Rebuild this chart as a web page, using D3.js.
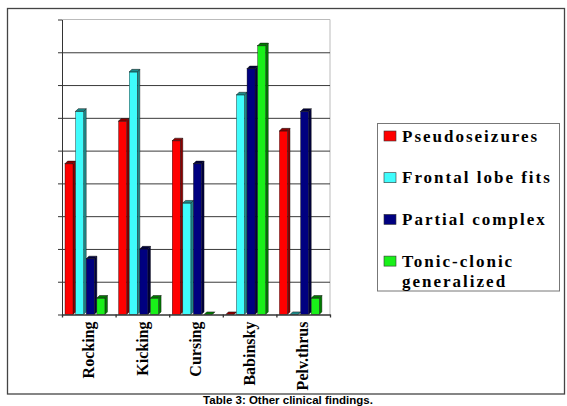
<!DOCTYPE html>
<html lang="en">
<head>
<meta charset="utf-8">
<title>Other clinical findings</title>
<script src="https://d3js.org/d3.v7.min.js"></script>
<style>
  body { margin: 0; background: #fff; }
  .cat { font-family: "Liberation Serif", "Times New Roman", serif; font-weight: bold; font-size: 16px; }
  .leg { font-family: "Liberation Serif", "Times New Roman", serif; font-weight: bold; font-size: 17px; letter-spacing: 2px; }
  .caption { font-family: "Liberation Sans", Arial, sans-serif; font-weight: bold; font-size: 11.5px; }
</style>
</head>
<body>
<div id="vis"></div>
<script>
// data
const categories = ["Rocking", "Kicking", "Cursing", "Babinsky", "Pelv.thrus"];
const seriesNames = ["Pseudoseizures", "Frontal lobe fits", "Partial complex", "Tonic-clonic generalized"];
const pseudoseizures = [46, 59, 53, 0, 56];
const frontalLobe    = [62, 74, 34, 67, 0];
const partialComplex = [17, 20, 46, 75, 62];
const tonicClonic    = [5, 5, 0, 82, 5];
const yTicks = [0, 10, 20, 30, 40, 50, 60, 70, 80, 90];

const seriesValues = [pseudoseizures, frontalLobe, partialComplex, tonicClonic];
const front = ["#ff0000", "#3ffcfc", "#000080", "#19f019"];
const side  = ["#8a0000", "#1f8a8a", "#00003c", "#007a00"];

const W = 567, H = 406;
const plotL = 62, plotR = 330, plotT = 19.5, plotB = 314.5;
const depth = 2.6;

const svg = d3.select("#vis").append("svg")
  .attr("width", W).attr("height", H);

// outer frame
svg.append("rect")
  .attr("x", 7.5).attr("y", 8.5).attr("width", 557).attr("height", 385.5)
  .attr("fill", "none").attr("stroke", "#444").attr("stroke-width", 1.3);

const x0 = d3.scaleBand().domain(categories).range([plotL, plotR]);
const x1 = d3.scaleBand().domain(seriesNames).range([3, 45.5]);
const y = d3.scaleLinear().domain([0, 90]).range([plotB, plotT]);

// light border top/right
svg.append("path")
  .attr("d", `M${plotL},${plotT}H${plotR}V${plotB}`)
  .attr("fill", "none").attr("stroke", "#bbb");

// gridlines
svg.append("g")
  .attr("transform", `translate(${plotL},0)`)
  .call(d3.axisLeft(y).tickValues(yTicks.slice(1, -1)).tickSize(-(plotR - plotL)).tickFormat(""))
  .call(g => g.select(".domain").remove())
  .call(g => g.selectAll("line").attr("stroke", "#3a3a3a"));

// left axis with small ticks
svg.append("g")
  .attr("transform", `translate(${plotL},0)`)
  .call(d3.axisLeft(y).tickValues(yTicks).tickSize(4).tickSizeOuter(0).tickFormat(""))
  .call(g => g.selectAll("line,path").attr("stroke", "#333"));

// bars (pseudo 3D)
const bars = [];
categories.forEach((c, i) => {
  seriesNames.forEach((s, j) => {
    bars.push({ cat: c, s: j, v: seriesValues[j][i] });
  });
});

const bw = x1.bandwidth();
const gb = svg.append("g");
bars.forEach(d => {
  const x = x0(d.cat) + x1(seriesNames[d.s]);
  const yt = y(d.v);
  const fw = bw - depth;
  // side face
  gb.append("polygon")
    .attr("points", [[x + fw, yt], [x + bw, yt - depth], [x + bw, plotB - depth], [x + fw, plotB]].join(" "))
    .attr("fill", side[d.s]).attr("stroke", "#111").attr("stroke-width", 0.4);
  // front face
  gb.append("rect")
    .attr("x", x).attr("y", yt).attr("width", fw).attr("height", plotB - yt)
    .attr("fill", front[d.s]).attr("stroke", "#111").attr("stroke-width", 0.4);
  // top face
  gb.append("polygon")
    .attr("points", [[x, yt], [x + depth, yt - depth], [x + bw, yt - depth], [x + fw, yt]].join(" "))
    .attr("fill", side[d.s]).attr("stroke", "#111").attr("stroke-width", 0.5);
});

// bottom axis: boundary ticks
const xb = d3.scaleLinear().domain([0, categories.length]).range([plotL, plotR]);
svg.append("g")
  .attr("transform", `translate(0,${plotB})`)
  .call(d3.axisBottom(xb).ticks(categories.length).tickSize(3).tickSizeOuter(0).tickFormat(""))
  .call(g => g.selectAll("line,path").attr("stroke", "#333").attr("stroke-width", 1.3));

// category labels
svg.append("g")
  .attr("transform", `translate(0,${plotB})`)
  .call(d3.axisBottom(x0).tickSize(0))
  .call(g => g.select(".domain").remove())
  .call(g => g.selectAll("text")
    .attr("class", "cat")
    .attr("fill", "#000")
    .attr("transform", "rotate(-90)")
    .attr("text-anchor", "end")
    .attr("x", -7).attr("y", 0).attr("dy", "0.33em"))
  .attr("font-family", null).attr("font-size", null);

// legend
const legend = svg.append("g");
legend.append("rect")
  .attr("x", 377.5).attr("y", 123.5).attr("width", 182).attr("height", 167.5)
  .attr("fill", "#fff").attr("stroke", "#777");
const legLines = [["Pseudoseizures"], ["Frontal lobe fits"], ["Partial complex"], ["Tonic-clonic", "generalized"]];
legLines.forEach((lines, i) => {
  const base = 141.5 + i * 41.7;
  legend.append("rect")
    .attr("x", 384).attr("y", base - 10.5).attr("width", 12).attr("height", 10)
    .attr("fill", front[i]).attr("stroke", "#333").attr("stroke-width", 0.6);
  lines.forEach((t, k) => {
    legend.append("text")
      .attr("class", "leg")
      .attr("x", 402)
      .attr("y", base + k * 20)
      .text(t);
  });
});

// caption
svg.append("text")
  .attr("class", "caption")
  .attr("x", 288).attr("y", 404)
  .attr("text-anchor", "middle")
  .text("Table 3: Other clinical findings.");
</script>
</body>
</html>
